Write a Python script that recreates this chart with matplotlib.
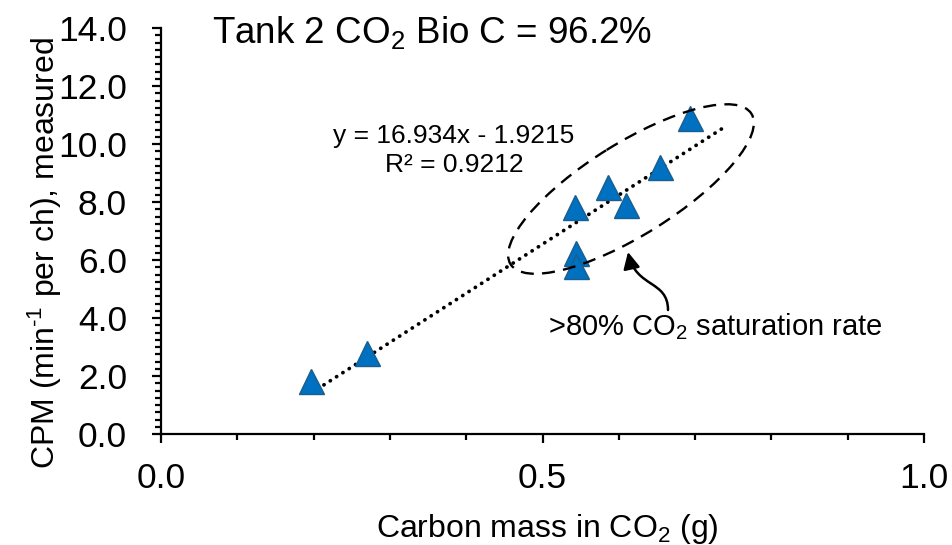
import matplotlib
matplotlib.use("Agg")
import matplotlib.pyplot as plt
import matplotlib.transforms as mtransforms
from matplotlib.patches import Ellipse, FancyArrowPatch
from matplotlib.path import Path
from matplotlib.ticker import MultipleLocator, FormatStrFormatter

# Measurements: carbon mass in CO2 (g) vs counts per minute per channel
carbon_mass = [0.197, 0.270, 0.543, 0.544, 0.544, 0.586, 0.609, 0.654, 0.693]
cpm = [1.84, 2.80, 7.84, 6.23, 5.80, 8.53, 7.90, 9.20, 10.89]

# Linear fit reported on the chart
slope = 16.934
intercept = -1.9215
r_squared = 0.9212
trend_end = 0.735

x_ticks = [0.0, 0.5, 1.0]

plt.rcParams["font.family"] = ["Liberation Sans", "DejaVu Sans"]
plt.rcParams["mathtext.fontset"] = "custom"
plt.rcParams["mathtext.rm"] = "Liberation Sans"
plt.rcParams["mathtext.it"] = "Liberation Sans:italic"
plt.rcParams["mathtext.bf"] = "Liberation Sans:bold"

W, H = 953, 545
fig = plt.figure(figsize=(W / 100, H / 100), dpi=100)
# pixel coordinates measured from the top-left corner
px = mtransforms.Affine2D().scale(1, -1).translate(0, H)

x0, x1, y0, y1 = 161, 924, 434, 28
ax = fig.add_axes([x0 / W, 1 - y0 / H, (x1 - x0) / W, (y0 - y1) / H])

# trendline
tx = [min(carbon_mass), trend_end]
ty = [slope * v + intercept for v in tx]
ax.plot(tx, ty, color="black", lw=2.7, linestyle=(0, (0.05, 1.95)),
        dash_capstyle="round", solid_capstyle="round", zorder=2)

ax.plot(carbon_mass, cpm, linestyle="none", marker="^", markersize=18,
        markerfacecolor="#0070C0", markeredgecolor="#1B5E8C",
        markeredgewidth=1.0, zorder=3, clip_on=False)

ax.set_xlim(0, 1.0)
ax.set_ylim(0, 14.0)
ax.set_xticks(x_ticks)
ax.xaxis.set_major_formatter(FormatStrFormatter("%.1f"))
ax.xaxis.set_minor_locator(MultipleLocator(0.1))
ax.yaxis.set_major_locator(MultipleLocator(2.0))
ax.yaxis.set_major_formatter(FormatStrFormatter("%.1f"))
ax.yaxis.set_minor_locator(MultipleLocator(0.25))

for side in ("top", "right"):
    ax.spines[side].set_visible(False)
for side in ("left", "bottom"):
    ax.spines[side].set_linewidth(1.6)

ax.tick_params(axis="both", which="major", direction="out", length=6.5,
               width=1.6, labelsize=25.5, colors="black")
ax.tick_params(axis="both", which="minor", direction="out", length=4.5,
               width=1.6)
ax.tick_params(axis="y", which="major", pad=18)
ax.tick_params(axis="x", which="major", pad=14)

# axis titles
fig.text(547, 537, "Carbon mass in CO$_\\mathregular{2}$ (g)", transform=px,
         fontsize=23, ha="center", va="baseline")
fig.text(55, 253, "CPM (min$^{\\text{-1}}$ per ch), measured",
         transform=px, fontsize=23, rotation=90, rotation_mode="anchor",
         ha="center", va="baseline")

# chart title
fig.text(212, 43, "Tank 2 CO$_\\mathregular{2}$ Bio C = 96.2%", transform=px,
         fontsize=26.5, ha="left", va="baseline")

# fit equation
fig.text(454, 143, f"y = {slope}x - {abs(intercept)}", transform=px,
         fontsize=19, ha="center", va="baseline")
fig.text(454, 172, f"R² = {r_squared}", transform=px,
         fontsize=19, ha="center", va="baseline")

# dashed ellipse around the high-saturation group
ell = Ellipse((631, 189), width=284, height=92, angle=-32, transform=px,
              fill=False, edgecolor="black", linewidth=1.7,
              linestyle=(0, (5.5, 3.5)), zorder=4)
fig.add_artist(ell)

# curved arrow pointing at the ellipse
arrow_path = Path([(668, 310), (668, 280), (636, 288), (628, 252)],
                  [Path.MOVETO, Path.CURVE4, Path.CURVE4, Path.CURVE4])
arrow = FancyArrowPatch(path=arrow_path, transform=px,
                        arrowstyle="-|>,head_length=0.5,head_width=0.25",
                        mutation_scale=20, color="black", linewidth=1.8)
fig.add_artist(arrow)

fig.text(548, 335, ">80% CO$_\\mathregular{2}$ saturation rate", transform=px,
         fontsize=21, ha="left", va="baseline")

fig.savefig("out.png", dpi=100)
